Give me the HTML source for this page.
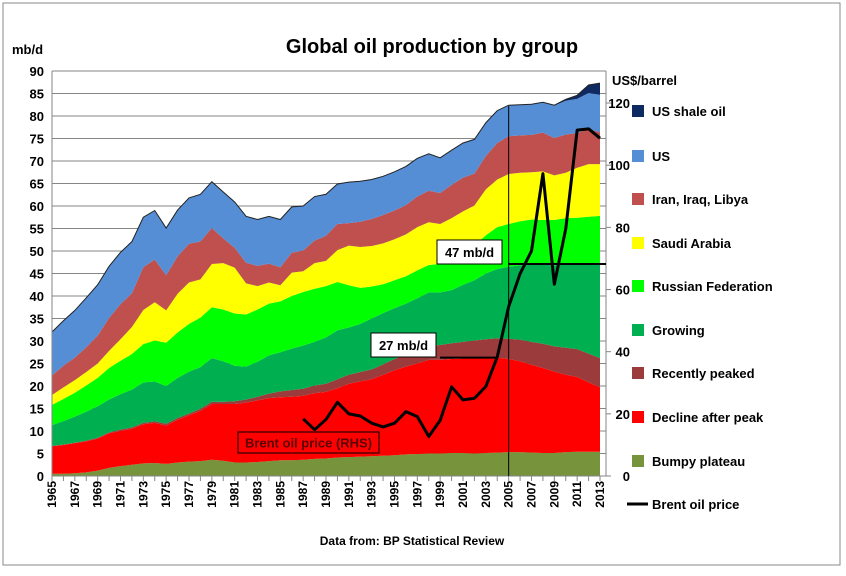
<!DOCTYPE html>
<html><head><meta charset="utf-8"><style>
body{margin:0;background:#fff;}
svg text{font-family:"Liberation Sans",Arial,sans-serif;}
</style></head><body>
<svg id="chart" width="846" height="571" viewBox="0 0 846 571" xmlns="http://www.w3.org/2000/svg">
<rect x="3" y="3" width="837" height="562" fill="#fff" stroke="#888" stroke-width="1"/>
<text x="432" y="53" font-size="20" font-weight="bold" text-anchor="middle">Global oil production by group</text>
<text x="12" y="54" font-size="13" font-weight="bold">mb/d</text>
<text x="612" y="85" font-size="13" font-weight="bold">US$/barrel</text>
<text x="412" y="545" font-size="12" font-weight="bold" text-anchor="middle">Data from: BP Statistical Review</text>
<g id="grid"></g><g id="areas"></g><g id="axes"></g><g id="annot"></g><g id="legend"></g>
</svg>
<script>
const years=[];for(let y=1965;y<=2013;y++)years.push(y);
const bumpy=[0.5,0.5,0.6,0.8,1.2,1.8,2.2,2.5,2.8,2.9,2.7,3.0,3.2,3.3,3.6,3.4,3.0,3.0,3.1,3.3,3.5,3.5,3.6,3.8,3.9,4.1,4.2,4.3,4.4,4.5,4.6,4.8,4.9,5.0,5.0,5.1,5.1,5.0,5.1,5.2,5.3,5.3,5.2,5.1,5.1,5.3,5.4,5.4,5.4];
const decline=[6.1,6.4,6.7,6.9,7.1,7.7,7.8,8.0,8.7,8.9,8.5,9.5,10.3,11.2,12.4,12.6,13.0,13.3,13.7,14.0,14.0,14.1,14.2,14.6,14.8,15.4,16.3,16.7,17.1,18.0,18.9,19.5,20.1,20.8,20.8,20.9,21.0,21.2,21.2,21.1,20.7,20.2,19.5,18.9,18.1,17.2,16.6,15.4,14.3];
const recent=[0.1,0.1,0.1,0.15,0.2,0.2,0.3,0.3,0.3,0.35,0.4,0.4,0.4,0.45,0.5,0.5,0.6,0.7,0.8,1.0,1.3,1.5,1.6,1.7,1.8,2.0,2.0,2.1,2.2,2.3,2.5,2.7,2.9,3.1,3.3,3.5,3.7,3.9,4.1,4.3,4.5,4.8,5.1,5.4,5.6,6.0,6.2,6.4,6.5];
const growing=[4.6,5.2,5.8,6.45,7.0,7.3,7.9,8.4,9.0,8.85,8.4,8.9,9.3,9.25,9.7,9.0,7.9,7.3,7.8,8.5,8.7,9.2,9.6,9.7,10.3,10.9,10.5,10.7,11.3,11.4,11.3,11.3,11.6,11.9,11.7,11.8,12.7,13.4,14.6,15.4,16.0,16.5,17.2,17.6,18.0,18.5,18.8,19.8,20.8];
const russia=[4.5,4.9,5.3,5.8,6.3,7.0,7.4,7.9,8.5,9.1,9.6,10.1,10.6,11.0,11.3,11.5,11.6,11.6,11.6,11.5,11.3,11.7,11.9,11.8,11.4,10.7,9.4,8.0,7.1,6.4,6.2,6.1,6.2,6.1,6.3,6.5,7.1,7.7,8.5,9.3,9.5,9.8,10.0,9.9,10.1,10.3,10.4,10.6,10.8];
const saudi=[2.2,2.6,2.8,3.0,3.2,3.8,4.8,6.0,7.6,8.5,7.2,8.6,9.2,8.5,9.6,10.3,10.2,6.9,5.2,4.7,3.6,5.2,4.6,5.7,5.6,7.1,8.8,9.1,9.0,9.1,9.1,9.3,9.6,9.5,8.9,9.5,9.2,8.9,10.2,10.6,11.1,10.8,10.5,10.8,9.9,10.1,11.1,11.7,11.5];
const iran=[4.3,4.8,5.0,5.5,6.2,7.3,7.8,7.5,9.5,9.5,7.8,8.3,8.6,8.4,8.0,5.5,4.4,4.6,4.5,4.2,4.0,4.4,4.6,5.0,5.6,5.8,5.0,5.6,6.0,6.3,6.4,6.5,6.8,7.0,6.9,7.4,7.5,7.1,7.4,8.1,8.4,8.3,8.3,8.6,8.3,8.5,7.7,7.8,7.1];
const us=[9.7,10,10.5,11,11.3,11.5,11.5,11.5,11.1,10.9,10.5,10.3,10.2,10.5,10.3,10.3,10.2,10.3,10.3,10.5,10.6,10.2,9.9,9.8,9.2,8.9,9.1,9.0,8.8,8.6,8.6,8.6,8.5,8.2,7.8,7.7,7.7,7.6,7.4,7.2,6.9,6.8,6.8,6.7,7.2,7.5,7.6,8.0,8.3];
const shale=[0,0,0,0,0,0,0,0,0,0,0,0,0,0,0,0,0,0,0,0,0,0,0,0,0,0,0,0,0,0,0,0,0,0,0,0,0,0,0,0,0,0,0,0.05,0.1,0.3,0.8,1.8,2.6];
const brentYears=[1987,1988,1989,1990,1991,1992,1993,1994,1995,1996,1997,1998,1999,2000,2001,2002,2003,2004,2005,2006,2007,2008,2009,2010,2011,2012,2013];
const brent=[18.4,14.9,18.2,23.7,20.0,19.3,17.0,15.8,17.0,20.7,19.1,12.7,17.9,28.7,24.5,25.0,28.8,38.3,54.5,65.1,72.4,97.3,61.7,79.5,111.3,111.7,108.7];
const leftTicks=[0,5,10,15,20,25,30,35,40,45,50,55,60,65,70,75,80,85,90];
const rightTicks=[0,20,40,60,80,100,120];
const seriesNames=["Bumpy plateau","Decline after peak","Recently peaked","Growing","Russian Federation","Saudi Arabia","Iran, Iraq, Libya","US","US shale oil"];
const seriesColors=["#77933C","#FF0000","#9B3B3B","#00B050","#00FF00","#FFFF00","#C0504D","#558ED5","#0F2A60"];
const seriesKeys=["bumpy-plateau","decline-after-peak","recently-peaked","growing","russian-federation","saudi-arabia","iran-iraq-libya","us","us-shale-oil"];

const NS="http://www.w3.org/2000/svg";
const X0=52,X1=600,Y0=476,PT=71,PR=606;
const x=yr=>X0+(yr-1965)*(X1-X0)/48;
const y=v=>Y0-v*(Y0-PT)/90;
const y2=v=>Y0-v*3.108;
function mk(tag,attrs,parent){const e=document.createElementNS(NS,tag);for(const k in attrs)e.setAttribute(k,attrs[k]);parent.appendChild(e);return e;}
const G=id=>document.getElementById(id);

// grid
leftTicks.forEach(t=>{
 const l=mk('line',{x1:X0,x2:PR,y1:y(t),y2:y(t),stroke:'#868686','stroke-width':1},G('grid'));
 
 
 const tx=mk('text',{x:44,y:y(t)+5,'font-size':13,'font-weight':'bold','text-anchor':'end'},G('axes'));tx.textContent=t;
 
 
});
// areas
const all=[bumpy,decline,recent,growing,russia,saudi,iran,us,shale];
let base=years.map(()=>0);
all.forEach((s,i)=>{
 const top=base.map((b,j)=>b+s[j]);
 let d='M'+years.map((yr,j)=>x(yr)+','+y(top[j])).join(' L');
 for(let j=years.length-1;j>=0;j--)d+=' L'+x(years[j])+','+y(base[j]);
 const p=mk('path',{d:d+'Z',fill:seriesColors[i],stroke:'none'},G('areas'));
 
 
 base=top;
});
const outline=mk('polyline',{points:years.map((yr,j)=>x(yr)+','+y(base[j])).join(' '),fill:'none',stroke:'#222','stroke-width':1},G('areas'));



// axes
const ax=G('axes');
mk('line',{x1:X0,x2:X0,y1:PT,y2:Y0,stroke:'#868686'},ax);
mk('line',{x1:PR,x2:PR,y1:PT,y2:Y0,stroke:'#868686'},ax);
mk('line',{x1:X0,x2:PR,y1:PT,y2:PT,stroke:'#868686'},ax);
mk('line',{x1:X0,x2:PR,y1:Y0,y2:Y0,stroke:'#868686'},ax);
years.forEach((yr,j)=>{
 mk('line',{x1:x(yr),x2:x(yr),y1:Y0,y2:Y0+5,stroke:'#868686'},ax);
 if(j%2===0){
  const t=mk('text',{x:0,y:0,'font-size':12,'font-weight':'bold','text-anchor':'end',transform:`translate(${x(yr)+4},${Y0+5}) rotate(-90)`},ax);t.textContent=yr;
  
  
 }
});
rightTicks.forEach(t=>{
 mk('line',{x1:PR,x2:PR+5,y1:y2(t),y2:y2(t),stroke:'#868686'},ax);
 const tx=mk('text',{x:630,y:y2(t)+5,'font-size':13,'font-weight':'bold','text-anchor':'end'},ax);tx.textContent=t;
 
 
});

// annotations
const an=G('annot');
const vl=mk('line',{x1:x(2005),x2:x(2005),y1:y(82.2),y2:Y0,stroke:'#000','stroke-width':1},an);


const h47=mk('line',{x1:x(2005),x2:PR,y1:y(47.1),y2:y(47.1),stroke:'#000','stroke-width':2},an);


const h27=mk('line',{x1:440,x2:497,y1:y(26.3),y2:y(26.3),stroke:'#000','stroke-width':2},an);


const bl=mk('polyline',{points:brentYears.map((yr,j)=>x(yr)+','+y2(brent[j])).join(' '),fill:'none',stroke:'#000','stroke-width':3,'stroke-linejoin':'round'},an);


function box(bx,by,w,h,txt,name,fill,col){
 const r=mk('rect',{x:bx,y:by,width:w,height:h,fill:fill,stroke:'#000','stroke-width':1},an);
 
 
 const t=mk('text',{x:bx+w/2,y:by+h/2+5,'font-size':13,'font-weight':'bold','text-anchor':'middle',fill:col},an);t.textContent=txt;
 
 
}
box(437,240,65,24,'47 mb/d','label-47-mbd','#fff','#000');
box(371,333,65,24,'27 mb/d','label-27-mbd','#fff','#000');
box(238,432,141,21,'Brent oil price (RHS)','label-brent-rhs','#FF0000','#5a0000');

// legend
const lg=G('legend');
const legY=[461,417,373,330,286,243,199,156,111];
seriesNames.forEach((n,i)=>{
 const r=mk('rect',{x:632,y:legY[i]-6,width:12,height:12,fill:seriesColors[i]},lg);
 
 
 const t=mk('text',{x:652,y:legY[i]+5,'font-size':13,'font-weight':'bold'},lg);t.textContent=n;
 
 
});
const ll=mk('line',{x1:627,x2:648,y1:504,y2:504,stroke:'#000','stroke-width':3},lg);


const lt=mk('text',{x:652,y:509,'font-size':13,'font-weight':'bold'},lg);lt.textContent='Brent oil price';


</script>
</body></html>
